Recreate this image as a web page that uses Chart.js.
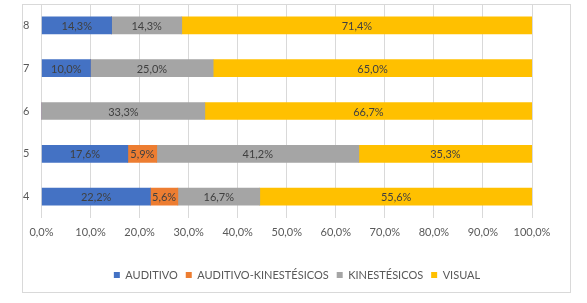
<!DOCTYPE html>
<html>
<head>
<meta charset="utf-8">
<script src="https://cdn.jsdelivr.net/npm/chart.js@4/dist/chart.umd.min.js"></script>
<style>
  body { margin: 0; background: #fff; }
  #frame { position: absolute; left: 22px; top: 4px; width: 549px; height: 289px; border: 1px solid #d9d9d9; box-sizing: border-box; }
  #wrap { position: absolute; left: 0; top: 0; width: 587px; height: 303px; }
</style>
</head>
<body>
<div id="frame"></div>
<div id="wrap"><canvas id="chart" width="587" height="303"></canvas></div>
<script>
const grades = ["8", "7", "6", "5", "4"];
const auditivo = [14.3, 10.0, 0, 17.6, 22.2];
const auditivoKin = [0, 0, 0, 5.9, 5.6];
const kinestesicos = [14.3, 25.0, 33.3, 41.2, 16.7];
const visual = [71.4, 65.0, 66.7, 35.3, 55.6];

const fmt = (v) => v.toFixed(1).replace(".", ",") + "%";
const fontFamily = "Lato, 'Liberation Sans', sans-serif";

// value labels centred in each segment, empty segments skipped
const segmentLabels = {
  id: "segmentLabels",
  afterDatasetsDraw(chart) {
    const ctx = chart.ctx;
    ctx.save();
    ctx.font = "11px " + fontFamily;
    ctx.fillStyle = "#404040";
    ctx.textAlign = "center";
    ctx.textBaseline = "middle";
    chart.data.datasets.forEach((ds, i) => {
      chart.getDatasetMeta(i).data.forEach((bar, j) => {
        const v = ds.data[j];
        if (!v) return;
        ctx.fillText(fmt(v), (bar.x + bar.base) / 2, bar.y + 1);
      });
    });
    ctx.restore();
  },
};

new Chart(document.getElementById("chart"), {
  type: "bar",
  data: {
    labels: grades,
    datasets: [
      { label: "AUDITIVO", data: auditivo, backgroundColor: "#4472C4" },
      { label: "AUDITIVO-KINESTÉSICOS", data: auditivoKin, backgroundColor: "#ED7D31" },
      { label: "KINESTÉSICOS", data: kinestesicos, backgroundColor: "#A5A5A5" },
      { label: "VISUAL", data: visual, backgroundColor: "#FFC000" },
    ],
  },
  options: {
    indexAxis: "y",
    responsive: false,
    animation: false,
    barThickness: 17,
    layout: { padding: { left: 7, top: 4, right: 0, bottom: 12.4 } },
    scales: {
      x: {
        stacked: true,
        min: 0,
        max: 100,
        ticks: {
          stepSize: 10,
          padding: 8,
          color: "#595959",
          font: { family: fontFamily, size: 11 },
          callback: (v) => fmt(v),
        },
        grid: { color: "#d9d9d9", drawTicks: false },
        border: { display: false },
        afterFit: (scale) => { scale.height = 43.6; },
      },
      y: {
        stacked: true,
        ticks: {
          padding: 12,
          color: "#595959",
          font: { family: fontFamily, size: 11 },
        },
        grid: { display: false, drawTicks: true, tickLength: 0 },
        border: { display: false },
        afterFit: (scale) => {
          scale.width = 34.5;
          scale.paddingTop = 0;
          scale.paddingBottom = 0;
        },
      },
      // empty axis keeping the right margin inside the frame
      yRight: {
        position: "right",
        ticks: { display: false },
        grid: { display: false, drawTicks: false },
        border: { display: false },
        afterFit: (scale) => { scale.width = 55; },
      },
    },
    plugins: {
      legend: {
        position: "bottom",
        labels: {
          boxWidth: 6,
          boxHeight: 6,
          padding: 8,
          color: "#595959",
          font: { family: fontFamily, size: 11 },
        },
      },
      tooltip: { enabled: false },
    },
  },
  plugins: [segmentLabels],
});
</script>
</body>
</html>
